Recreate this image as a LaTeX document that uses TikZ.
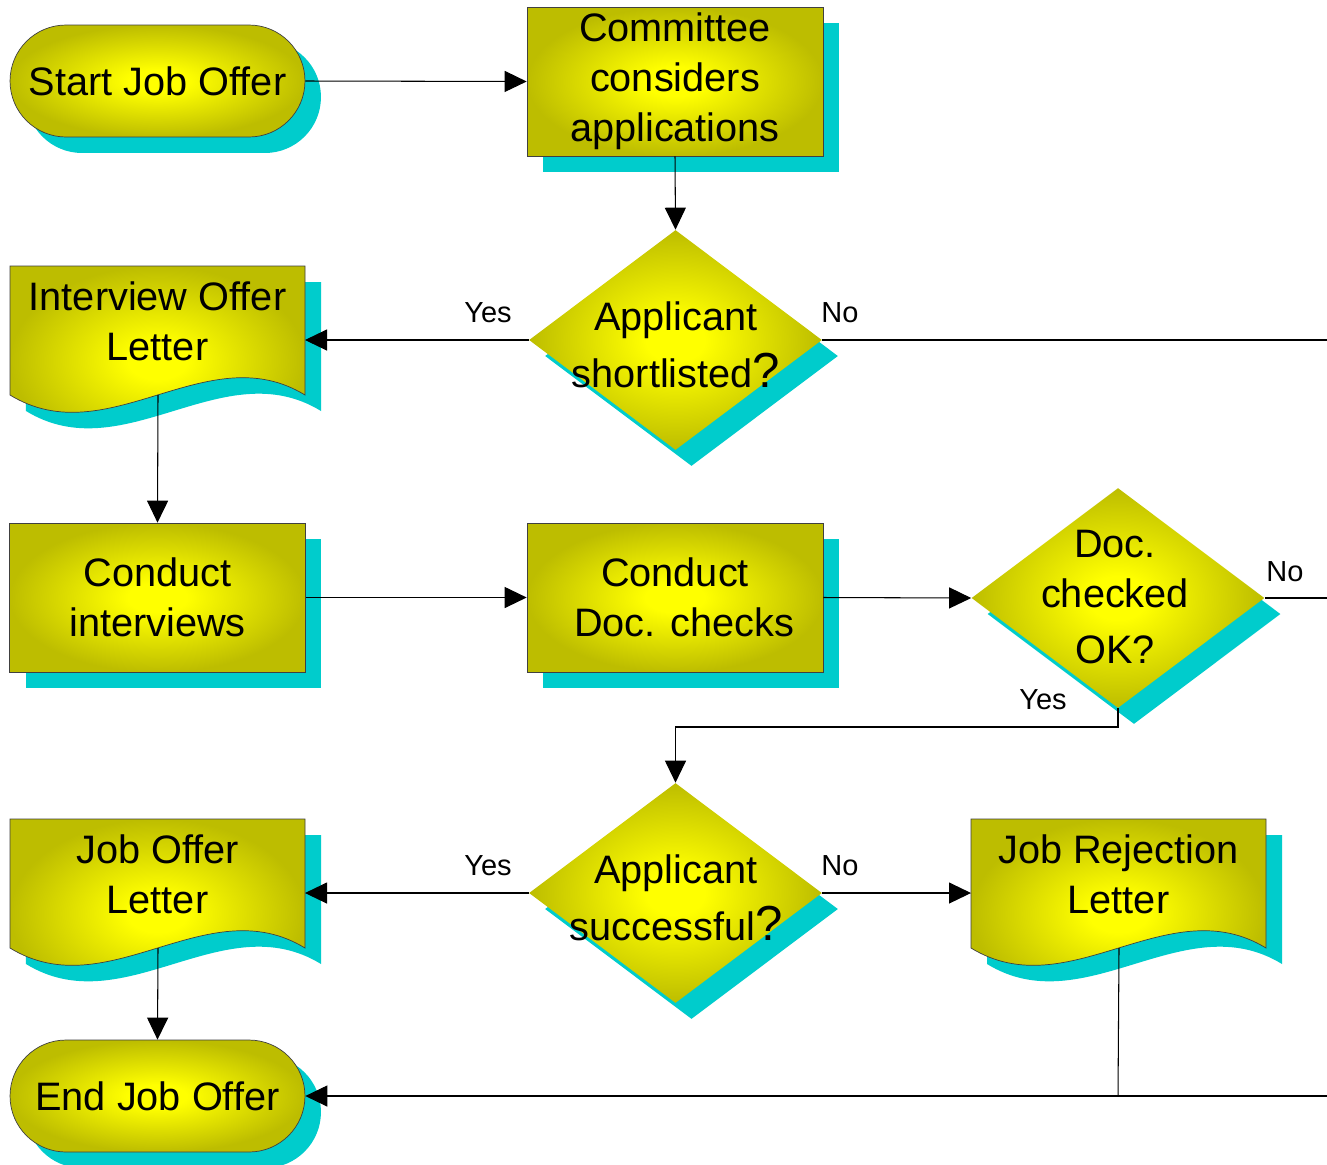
\documentclass[tikz,border=0pt]{standalone}
\usepackage{fontspec}
\setmainfont{Liberation Sans}
\usetikzlibrary{shapes.geometric,arrows.meta,shadows}
\definecolor{hot}{HTML}{FFFF00}
\definecolor{rim}{HTML}{BDBD00}
\definecolor{castcol}{HTML}{00CCCC}
\definecolor{outline}{HTML}{404040}
\pgfdeclareradialshading{glow}{\pgfpoint{0bp}{0bp}}{color(0bp)=(hot); color(5bp)=(hot); color(25bp)=(rim); color(50bp)=(rim)}
\newcommand\bigq{{\fontsize{28}{28}\selectfont ?}}
\begin{document}
\begin{tikzpicture}[x=0.02cm, y=-0.02cm,
  cast/.style={drop shadow={shadow xshift=0.32cm, shadow yshift=-0.32cm, fill=castcol, opacity=1}},
  body/.style={cast, shading=glow, draw=outline, line width=0.4pt},
  bigtext/.style={font=\fontsize{22.6}{28.45}\selectfont, align=center, text=black},
  terminal/.style={body, bigtext, rectangle, rounded corners=1.12cm, minimum width=5.9cm, minimum height=2.24cm, inner sep=0pt},
  process/.style={body, bigtext, rectangle, minimum width=5.92cm, minimum height=2.98cm, inner sep=0pt},
  decision/.style={cast, shading=glow, diamond, minimum width=5.86cm, minimum height=4.4cm, inner sep=0pt},
  caption/.style={bigtext, inner sep=0pt},
  tag/.style={font=\fontsize{16.5}{20}\selectfont, inner sep=0pt},
  flow/.style={line width=0.6pt, -{Triangle[length=0.44cm,width=0.42cm]}},
  link/.style={line width=0.6pt},
  pics/letter/.style={code={
    \path[body] (0,0) -- (295,0) -- (295,129) .. controls (197,69) and (98,189) .. (0,129) -- cycle;
    \coordinate (-side) at (295,74);
    \coordinate (-back) at (0,74);
    \coordinate (-foot) at (148,129);
    \coordinate (-mid) at (147.5,55);
  }},
]
\clip (0,0) rectangle (1327,1164);
\fill[white] (0,0) rectangle (1327,1164);

% start and end terminals
\node[terminal] (start) at (157.5,81) {Start Job Offer};
\node[terminal] (finish) at (157.5,1096) {End Job Offer};

% process boxes
\node[process] (committee) at (675,81.5) {Committee\\considers\\applications};
\node[process] (interviews) at (157.5,597.5) {Conduct\\interviews};
\node[process] (checks) at (675,597.5) {Conduct\\\hspace*{0.36cm}Doc. checks};

% decisions
\node[decision] (short) at (675.5,340) {};
\node[caption] (short-text) at (676,345) {Applicant\\[0.14cm]shortlisted\bigq};
\node[decision] (docok) at (1118,598) {};
\node[caption] (docok-text) at (1115,597) {Doc.\\checked\\[0.12cm]OK?};
\node[decision] (success) at (675.5,893) {};
\node[caption] (success-text) at (676,898) {Applicant\\[0.14cm]successful\bigq};

% letters
\pic (invite) at (10,266) {letter};
\node[caption] (invite-text) at (invite-mid) {Interview Offer\\Letter};
\pic (offer) at (10,819) {letter};
\node[caption] (offer-text) at (offer-mid) {Job Offer\\Letter};
\pic (reject) at (971,819) {letter};
\node[caption] (reject-text) at (reject-mid) {Job Rejection\\Letter};

% free ends and bends
\coordinate (exitA) at (1327,340);
\coordinate (exitB) at (1327,598);
\coordinate (exitC) at (1327,1096);
\coordinate (bendA) at (1118,727);
\coordinate (joinA) at (1118,1096);

% connectors
\draw[flow] (start.east) -- (committee.west);
\draw[flow] (committee.south) -- (short.north);
\draw[flow] (short.west) -- (invite-side);
\draw[link] (short.east) -- (exitA);
\draw[flow] (invite-foot) -- (interviews.north);
\draw[flow] (interviews.east) -- (checks.west);
\draw[flow] (checks.east) -- (docok.west);
\draw[link] (docok.east) -- (exitB);
\draw[flow] (docok.south) -- (bendA) -| (success.north);
\draw[flow] (success.west) -- (offer-side);
\draw[flow] (success.east) -- (reject-back);
\draw[flow] (offer-foot) -- (finish.north);
\draw[link] (reject-foot) -- (joinA);
\draw[flow] (exitC) -- (finish.east);

% branch labels
\node[tag] (yesA) at (488,313) {Yes};
\node[tag] (noA) at (840,313) {No};
\node[tag] (noB) at (1285,572) {No};
\node[tag] (yesB) at (1043,700) {Yes};
\node[tag] (yesC) at (488,866) {Yes};
\node[tag] (noC) at (840,866) {No};
\end{tikzpicture}
\end{document}
